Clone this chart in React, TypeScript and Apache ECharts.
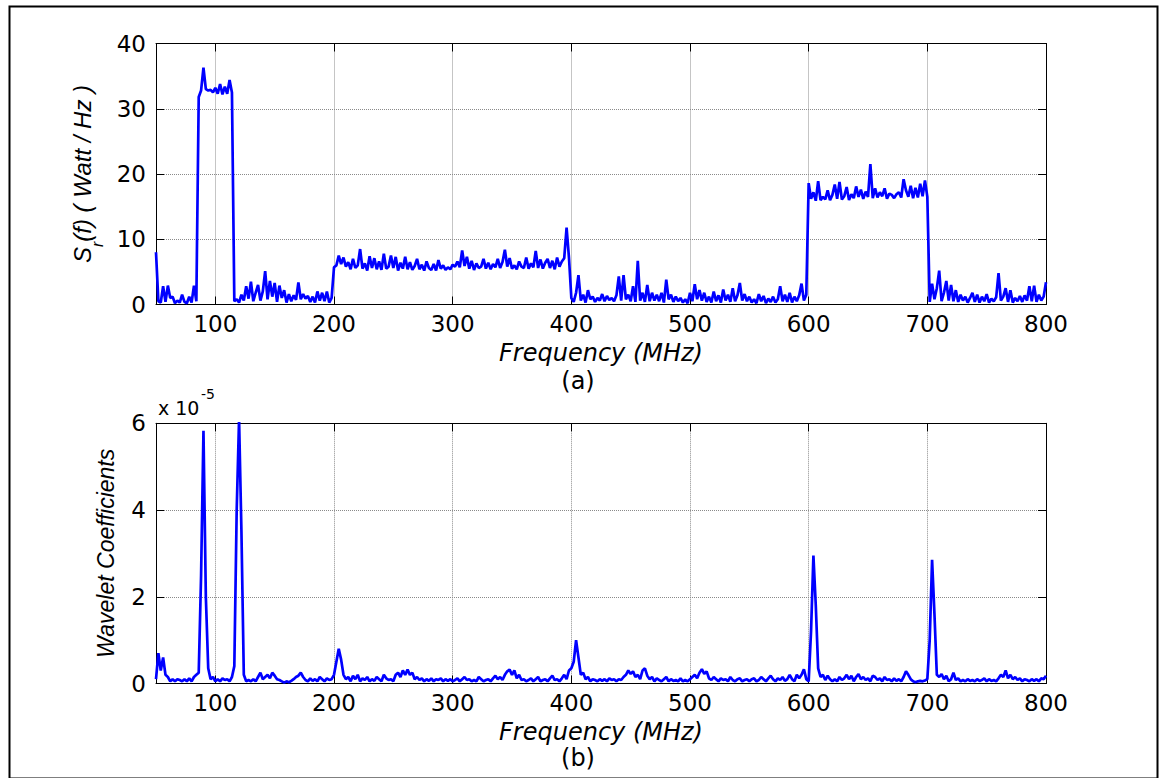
import React, { useEffect, useRef } from "react";
import * as echarts from "echarts";

// ---------------- data ----------------
// sampling grid: 50 .. 800 MHz, one sample every 2 MHz
const FREQ_START = 50;
const FREQ_STEP = 2;

// frequency ticks (MHz)
const FREQ_TICKS = [100, 200, 300, 400, 500, 600, 700, 800];

// (a) received PSD S_r(f) in Watt/Hz, one row = 20 MHz
const psdValues = [
  8.0, 0.5, 0.3, 2.8, 0.4, 2.9, 1.0, 1.2, 0.2, 0.6, // 50
  0.3, 1.5, 0.4, 0.2, 1.2, 0.3, 2.9, 0.5, 31.8, 32.8, // 70
  36.3, 33.0, 32.8, 32.9, 32.5, 33.2, 32.3, 33.8, 32.2, 33.4, // 90
  32.3, 34.4, 32.5, 0.5, 0.8, 0.3, 1.5, 0.6, 2.8, 0.9, // 110
  3.5, 0.5, 1.8, 3.0, 0.6, 2.0, 5.1, 0.8, 3.6, 1.2, // 130
  3.3, 0.4, 2.9, 1.0, 2.2, 0.3, 1.6, 0.5, 1.4, 0.7, // 150
  3.4, 0.8, 1.6, 0.9, 1.3, 0.4, 1.2, 0.3, 2.0, 0.6, // 170
  1.8, 0.5, 2.0, 0.3, 1.0, 5.7, 6.0, 7.5, 6.2, 7.2, // 190
  5.8, 6.5, 5.4, 7.0, 5.6, 6.0, 8.5, 5.5, 6.3, 5.2, // 210
  7.4, 5.6, 7.1, 5.4, 6.6, 5.3, 7.8, 5.5, 5.8, 7.5, // 230
  5.6, 7.3, 5.2, 6.4, 5.5, 7.3, 5.4, 6.5, 5.3, 5.9, // 250
  7.0, 5.4, 6.1, 5.2, 6.6, 5.6, 5.3, 6.2, 5.2, 6.8, // 270
  5.5, 6.0, 5.3, 5.7, 5.4, 6.1, 5.8, 6.6, 5.7, 8.3, // 290
  5.9, 7.3, 5.5, 6.7, 5.3, 6.3, 5.6, 5.8, 7.0, 5.5, // 310
  6.4, 5.4, 6.2, 5.7, 7.0, 5.6, 6.5, 8.4, 5.8, 7.1, // 330
  5.5, 6.0, 5.4, 6.6, 5.8, 5.6, 7.2, 5.5, 6.3, 5.7, // 350
  8.2, 5.6, 6.9, 5.5, 6.4, 7.0, 5.6, 6.7, 5.4, 7.2, // 370
  5.8, 6.6, 7.1, 11.8, 7.2, 1.0, 0.4, 1.8, 4.5, 0.6, // 390
  1.5, 0.3, 2.2, 0.8, 1.2, 0.4, 1.0, 0.6, 1.6, 0.5, // 410
  1.3, 0.7, 1.0, 0.5, 1.4, 4.3, 0.6, 4.5, 0.8, 1.5, // 430
  0.5, 2.8, 0.4, 6.7, 0.6, 1.8, 0.4, 3.0, 0.5, 1.8, // 450
  0.6, 1.5, 0.5, 1.8, 0.3, 3.8, 0.8, 1.5, 0.4, 1.2, // 470
  0.5, 1.0, 0.3, 0.8, 0.2, 1.8, 0.5, 3.1, 0.8, 2.2, // 490
  0.6, 1.8, 0.4, 1.2, 0.3, 2.0, 0.5, 1.4, 0.3, 2.3, // 510
  0.6, 1.5, 0.4, 2.5, 0.5, 1.4, 3.3, 0.6, 1.6, 0.5, // 530
  1.2, 0.3, 0.8, 0.2, 1.6, 0.5, 1.3, 0.2, 0.9, 0.4, // 550
  1.2, 0.3, 0.8, 2.8, 0.5, 1.5, 0.4, 1.8, 0.3, 1.2, // 570
  0.5, 1.4, 3.2, 0.6, 1.5, 18.6, 16.2, 17.2, 15.9, 18.9, // 590
  16.0, 16.5, 16.1, 17.5, 16.0, 16.8, 18.4, 16.2, 18.8, 16.1, // 610
  16.6, 18.0, 16.0, 16.9, 16.3, 18.1, 16.5, 17.6, 16.2, 17.3, // 630
  16.5, 21.5, 16.3, 17.8, 16.4, 17.2, 16.6, 17.8, 16.2, 17.0, // 650
  16.8, 16.3, 16.9, 17.2, 16.4, 19.2, 17.5, 16.5, 18.2, 16.3, // 670
  17.9, 16.4, 18.5, 16.6, 19.0, 16.5, 0.4, 3.2, 0.8, 2.5, // 690
  5.2, 0.5, 1.8, 3.6, 0.6, 3.0, 0.5, 2.2, 0.4, 1.5, // 710
  0.6, 1.2, 0.3, 1.0, 1.8, 0.4, 1.5, 0.3, 1.2, 0.5, // 730
  1.6, 0.3, 0.9, 0.5, 1.1, 4.8, 0.6, 1.2, 2.5, 0.4, // 750
  2.2, 0.3, 1.0, 0.5, 1.3, 0.4, 1.4, 0.6, 2.8, 0.5, // 770
  2.9, 0.4, 1.5, 0.6, 1.2, 3.4 // 790
];

// (b) wavelet coefficients in units of 1e-5, one row = 20 MHz
const waveletValues = [
  0.1, 0.7, 0.3, 0.6, 0.2, 0.15, 0.05, 0.1, 0.05, 0.1, // 50
  0.08, 0.05, 0.1, 0.05, 0.12, 0.05, 0.15, 0.2, 0.25, 2.5, // 70
  5.83, 2.0, 0.35, 0.1, 0.15, 0.05, 0.1, 0.05, 0.12, 0.08, // 90
  0.1, 0.05, 0.15, 0.4, 4.0, 6.1, 3.5, 0.2, 0.05, 0.08, // 110
  0.05, 0.1, 0.05, 0.15, 0.25, 0.1, 0.15, 0.2, 0.12, 0.25, // 130
  0.18, 0.1, 0.08, 0.05, 0.02, 0.05, 0.03, 0.06, 0.1, 0.15, // 150
  0.18, 0.25, 0.15, 0.08, 0.05, 0.12, 0.06, 0.1, 0.05, 0.15, // 170
  0.1, 0.05, 0.12, 0.08, 0.1, 0.2, 0.5, 0.8, 0.55, 0.2, // 190
  0.1, 0.15, 0.05, 0.18, 0.1, 0.2, 0.05, 0.12, 0.08, 0.15, // 210
  0.05, 0.1, 0.06, 0.15, 0.1, 0.05, 0.2, 0.12, 0.08, 0.1, // 230
  0.05, 0.2, 0.25, 0.15, 0.3, 0.2, 0.32, 0.2, 0.25, 0.1, // 250
  0.15, 0.08, 0.12, 0.05, 0.1, 0.06, 0.12, 0.05, 0.1, 0.08, // 270
  0.12, 0.05, 0.1, 0.06, 0.1, 0.05, 0.08, 0.12, 0.05, 0.1, // 290
  0.15, 0.08, 0.1, 0.05, 0.08, 0.05, 0.15, 0.1, 0.05, 0.08, // 310
  0.1, 0.05, 0.12, 0.18, 0.1, 0.15, 0.08, 0.2, 0.28, 0.32, // 330
  0.2, 0.3, 0.12, 0.2, 0.08, 0.1, 0.05, 0.08, 0.12, 0.05, // 350
  0.1, 0.15, 0.05, 0.08, 0.1, 0.05, 0.12, 0.18, 0.08, 0.1, // 370
  0.05, 0.12, 0.2, 0.1, 0.3, 0.35, 0.5, 1.0, 0.6, 0.2, // 390
  0.25, 0.1, 0.15, 0.05, 0.1, 0.08, 0.05, 0.1, 0.06, 0.1, // 410
  0.05, 0.12, 0.08, 0.1, 0.05, 0.1, 0.08, 0.15, 0.2, 0.3, // 430
  0.22, 0.28, 0.15, 0.2, 0.1, 0.3, 0.35, 0.18, 0.1, 0.15, // 450
  0.05, 0.12, 0.08, 0.05, 0.1, 0.15, 0.05, 0.1, 0.06, 0.08, // 470
  0.05, 0.12, 0.05, 0.08, 0.05, 0.1, 0.15, 0.2, 0.12, 0.25, // 490
  0.33, 0.22, 0.28, 0.12, 0.08, 0.15, 0.1, 0.05, 0.12, 0.08, // 510
  0.1, 0.05, 0.15, 0.08, 0.05, 0.1, 0.12, 0.05, 0.08, 0.1, // 530
  0.05, 0.1, 0.12, 0.05, 0.08, 0.15, 0.1, 0.05, 0.12, 0.18, // 550
  0.1, 0.05, 0.12, 0.08, 0.15, 0.06, 0.1, 0.2, 0.1, 0.05, // 570
  0.2, 0.12, 0.2, 0.33, 0.1, 0.05, 1.2, 2.95, 1.8, 0.35, // 590
  0.15, 0.2, 0.08, 0.18, 0.1, 0.05, 0.1, 0.05, 0.15, 0.08, // 610
  0.12, 0.2, 0.1, 0.18, 0.05, 0.15, 0.22, 0.1, 0.15, 0.08, // 630
  0.12, 0.05, 0.18, 0.15, 0.08, 0.12, 0.05, 0.15, 0.08, 0.1, // 650
  0.05, 0.12, 0.06, 0.1, 0.05, 0.15, 0.28, 0.2, 0.1, 0.05, // 670
  0.03, 0.05, 0.06, 0.05, 0.07, 0.1, 1.0, 2.85, 1.6, 0.2, // 690
  0.15, 0.22, 0.1, 0.18, 0.05, 0.1, 0.25, 0.08, 0.12, 0.05, // 710
  0.08, 0.05, 0.1, 0.06, 0.08, 0.05, 0.1, 0.06, 0.08, 0.12, // 730
  0.05, 0.1, 0.06, 0.08, 0.05, 0.12, 0.2, 0.15, 0.3, 0.12, // 750
  0.2, 0.1, 0.15, 0.08, 0.12, 0.05, 0.1, 0.08, 0.05, 0.1, // 770
  0.06, 0.1, 0.05, 0.12, 0.1, 0.18 // 790
];

const toPairs = (vals: number[]) => vals.map((v, i) => [FREQ_START + FREQ_STEP * i, v]);

// ---------------- styling helpers ----------------
const BLUE = "#0000ff";
const GRID_LINE = { show: true, lineStyle: { color: "#8a8a8a", type: "dotted", width: 1 } };
const TICK_FONT = { fontFamily: "DejaVu Sans", fontSize: 23, color: "#000" };

function xAxes(gridIndex: number) {
  return [
    {
      type: "value", gridIndex, position: "bottom", min: 50, max: 800,
      axisLine: { show: true, onZero: false, lineStyle: { color: "#000", width: 1 } },
      axisTick: { show: true, inside: true, length: 8, customValues: FREQ_TICKS, lineStyle: { color: "#000" } },
      axisLabel: { show: true, customValues: FREQ_TICKS, margin: 8, ...TICK_FONT },
      splitLine: GRID_LINE,
      name: "Frequency (MHz)", nameLocation: "middle", nameGap: 36,
      nameTextStyle: { fontFamily: "DejaVu Sans", fontStyle: "italic", fontSize: 24, color: "#000" },
    },
    {
      type: "value", gridIndex, position: "top", min: 50, max: 800,
      axisLine: { show: true, onZero: false, lineStyle: { color: "#000", width: 1 } },
      axisTick: { show: true, inside: true, length: 8, customValues: FREQ_TICKS, lineStyle: { color: "#000" } },
      axisLabel: { show: false },
      splitLine: { show: false },
    },
  ];
}

function yAxes(gridIndex: number, max: number, interval: number, name: string, nameGap: number, nameStyle: any) {
  return [
    {
      type: "value", gridIndex, position: "left", min: 0, max, interval,
      axisLine: { show: true, onZero: false, lineStyle: { color: "#000", width: 1 } },
      axisTick: { show: true, inside: true, length: 8, lineStyle: { color: "#000" } },
      axisLabel: { show: true, margin: 10, ...TICK_FONT },
      splitLine: GRID_LINE,
      name, nameLocation: "middle", nameGap, nameRotate: 90,
      nameTextStyle: nameStyle,
    },
    {
      type: "value", gridIndex, position: "right", min: 0, max, interval,
      axisLine: { show: true, onZero: false, lineStyle: { color: "#000", width: 1 } },
      axisTick: { show: true, inside: true, length: 8, lineStyle: { color: "#000" } },
      axisLabel: { show: false },
      splitLine: { show: false },
    },
  ];
}

export default function App() {
  const ref = useRef<HTMLDivElement>(null);

  useEffect(() => {
    if (!ref.current) return;
    const chart = echarts.init(ref.current, null, { renderer: "svg" });

    const top = yAxes(0, 40, 10, "{s|S}{sub|r}{s|(f) ( Watt / Hz )}", 50, {
      color: "#000",
      rich: {
        s: { fontFamily: "Liberation Sans", fontStyle: "italic", fontSize: 24, lineHeight: 30, verticalAlign: "top", color: "#000" },
        sub: { fontFamily: "Liberation Sans", fontStyle: "italic", fontSize: 16, lineHeight: 16, padding: [19, 0, 0, 0], verticalAlign: "top", color: "#000" },
      },
    });
    const bottom = yAxes(1, 6, 2, "Wavelet Coefficients", 33, {
      fontFamily: "Liberation Sans", fontStyle: "italic", fontSize: 23, lineHeight: 28, color: "#000",
    });

    chart.setOption({
      animation: false,
      backgroundColor: "#fff",
      grid: [
        { left: 156, top: 43.5, width: 890, height: 261, containLabel: false },
        { left: 156, top: 423.3, width: 890, height: 260.2, containLabel: false },
      ],
      xAxis: [...xAxes(0), ...xAxes(1)],
      yAxis: [...top, ...bottom],
      series: [
        {
          type: "line", xAxisIndex: 0, yAxisIndex: 0, data: toPairs(psdValues),
          showSymbol: false, symbol: "none", clip: true,
          lineStyle: { color: BLUE, width: 2.7 }, itemStyle: { color: BLUE },
        },
        {
          type: "line", xAxisIndex: 2, yAxisIndex: 2, data: toPairs(waveletValues),
          showSymbol: false, symbol: "none", clip: true,
          lineStyle: { color: BLUE, width: 2.7 }, itemStyle: { color: BLUE },
        },
      ],
      graphic: [
        {
          type: "rect", left: 7, top: 4, silent: true,
          shape: { width: 1148, height: 772 },
          style: { fill: "none", stroke: "#000", lineWidth: 2 },
        },
        {
          type: "text", x: 578, y: 381, silent: true,
          style: { text: "(a)", fontFamily: "DejaVu Sans", fontSize: 24, fill: "#000", textAlign: "center", textVerticalAlign: "middle" },
        },
        {
          type: "text", x: 578, y: 758, silent: true,
          style: { text: "(b)", fontFamily: "DejaVu Sans", fontSize: 24, fill: "#000", textAlign: "center", textVerticalAlign: "middle" },
        },
        {
          type: "text", x: 158, y: 408, silent: true,
          style: { text: "x 10", fontFamily: "DejaVu Sans", fontSize: 19, fill: "#000", textAlign: "left", textVerticalAlign: "middle" },
        },
        {
          type: "text", x: 201, y: 394, silent: true,
          style: { text: "-5", fontFamily: "DejaVu Sans", fontSize: 14, fill: "#000", textAlign: "left", textVerticalAlign: "middle" },
        },
      ],
    });

    return () => chart.dispose();
  }, []);

  return (
    <div
      ref={ref}
      style={{ position: "absolute", left: 0, top: 0, width: 1161, height: 778, background: "#fff" }}
    />
  );
}
